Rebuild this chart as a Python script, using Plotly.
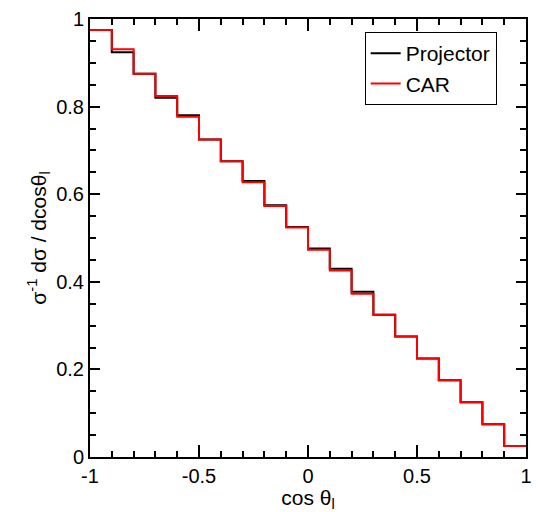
import plotly.graph_objects as go

bin_edges = [-1.0, -0.9, -0.8, -0.7, -0.6, -0.5, -0.4, -0.3, -0.2, -0.1,
             0.0, 0.1, 0.2, 0.3, 0.4, 0.5, 0.6, 0.7, 0.8, 0.9, 1.0]
projector = [0.975, 0.924, 0.875, 0.820, 0.780, 0.725, 0.675, 0.630, 0.575, 0.525,
             0.476, 0.430, 0.377, 0.325, 0.275, 0.225, 0.175, 0.125, 0.075, 0.025]
car = [0.975, 0.931, 0.875, 0.824, 0.777, 0.725, 0.675, 0.627, 0.573, 0.524,
       0.473, 0.426, 0.373, 0.325, 0.275, 0.225, 0.175, 0.125, 0.075, 0.025]

x_ticks = [-1, -0.5, 0, 0.5, 1]
x_ticktext = ["-1", "-0.5", "0", "0.5", "1"]
y_ticks = [0, 0.2, 0.4, 0.6, 0.8, 1]
y_ticktext = ["0", "0.2", "0.4", "0.6", "0.8", "1"]

FONT = "Liberation Sans, Arial, sans-serif"

fig = go.Figure()
fig.add_trace(go.Scatter(x=bin_edges, y=projector + [projector[-1]], mode="lines",
                         line=dict(color="black", width=2, shape="hv"), name="Projector"))
fig.add_trace(go.Scatter(x=bin_edges, y=car + [car[-1]], mode="lines",
                         line=dict(color="#ff0000", width=2, shape="hv"), name="CAR"))

axis_common = dict(showline=True, linecolor="black", linewidth=2, mirror="allticks",
                   ticks="inside", tickcolor="black", tickwidth=1.5,
                   showgrid=False, zeroline=False, ticklabeloverflow="allow",
                   tickfont=dict(family=FONT, size=20, color="black"))

fig.update_xaxes(range=[-1, 1], tickvals=x_ticks, ticktext=x_ticktext, ticklen=12,
                 minor=dict(dtick=0.1, ticks="inside", ticklen=6, tickcolor="black", tickwidth=1.5),
                 title=dict(text="cos θ<sub>l</sub>", font=dict(family=FONT, size=21, color="black"), standoff=2),
                 **axis_common)
fig.update_yaxes(range=[0, 1], tickvals=y_ticks, ticktext=y_ticktext, ticklen=10,
                 minor=dict(dtick=0.05, ticks="inside", ticklen=6, tickcolor="black", tickwidth=1.5),
                 title=dict(text="σ<sup>-1</sup> dσ / dcosθ<sub>l</sub>", font=dict(family=FONT, size=21, color="black"), standoff=4),
                 **axis_common)

fig.update_layout(
    width=540, height=512,
    margin=dict(l=90, r=8, t=16, b=53),
    paper_bgcolor="white", plot_bgcolor="white",
    showlegend=True,
    legend=dict(x=0.63, y=0.97, xanchor="left", yanchor="top",
                bordercolor="black", borderwidth=1, bgcolor="white",
                font=dict(family=FONT, size=21, color="black"),
                tracegroupgap=0),
)

fig.write_html("out.html", config={"displayModeBar": False},
               post_script="document.body.style.margin='0';")
